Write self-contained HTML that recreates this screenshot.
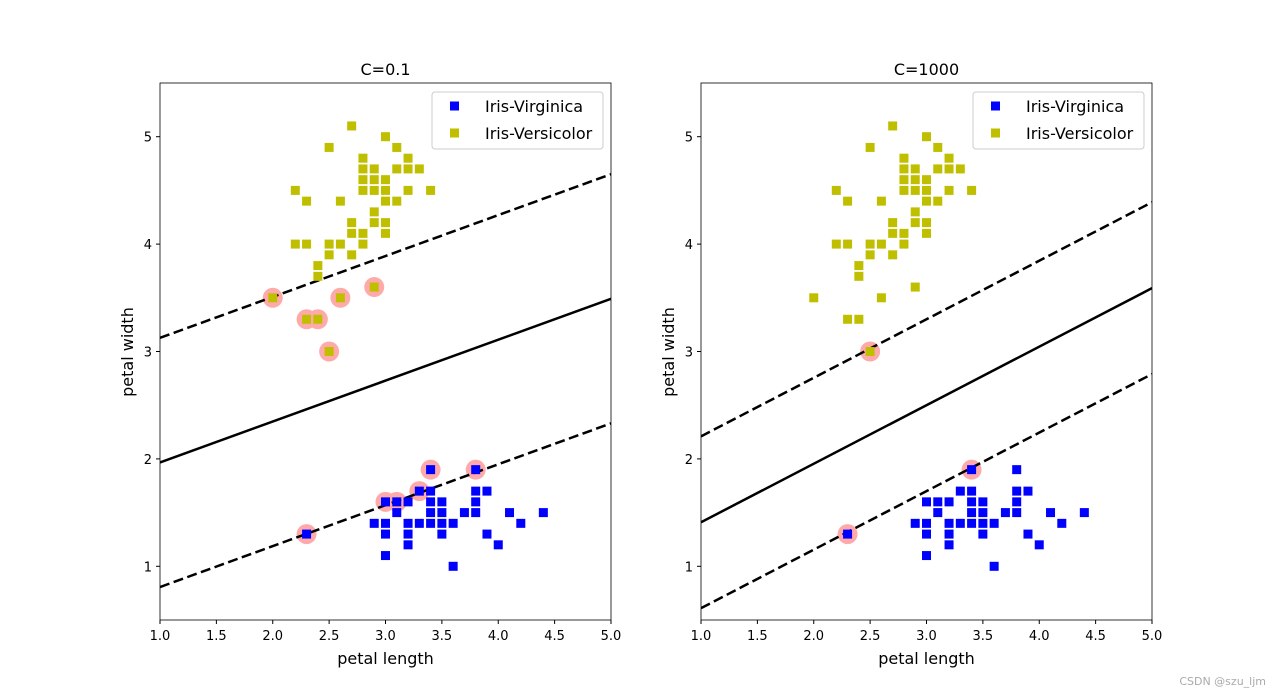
<!DOCTYPE html>
<html><head><meta charset="utf-8"><style>
body{margin:0;background:#fff;}
svg{display:block;font-family:"DejaVu Sans","Liberation Sans",sans-serif;}
</style></head><body>
<svg id="chart" width="1280" height="697"></svg>
<script>
const versicolorX=[2.7,3.0,2.5,3.1,2.8,3.2,2.8,2.9,3.1,3.2,3.3,2.8,2.9,3.0,2.2,2.8,2.9,3.0,3.2,3.4,2.3,2.6,3.0,3.1,2.9,2.7,2.9,3.0,2.7,2.8,3.0,2.2,2.3,2.5,2.6,2.8,2.5,2.7,2.4,2.4,2.9,2.0,2.6,2.3,2.4,2.5];
const versicolorY=[5.1,5.0,4.9,4.9,4.8,4.8,4.7,4.7,4.7,4.7,4.7,4.6,4.6,4.6,4.5,4.5,4.5,4.5,4.5,4.5,4.4,4.4,4.4,4.4,4.3,4.2,4.2,4.2,4.1,4.1,4.1,4.0,4.0,4.0,4.0,4.0,3.9,3.9,3.8,3.7,3.6,3.5,3.5,3.3,3.3,3.0];
const virginicaX=[3.4,3.8,3.3,3.4,3.8,3.9,3.0,3.1,3.2,3.4,3.5,3.8,3.1,3.4,3.5,3.7,3.8,4.1,4.4,2.9,3.0,3.2,3.3,3.4,3.5,3.6,4.2,2.3,3.0,3.2,3.5,3.9,3.2,4.0,3.0,3.6];
const virginicaY=[1.9,1.9,1.7,1.7,1.7,1.7,1.6,1.6,1.6,1.6,1.6,1.6,1.5,1.5,1.5,1.5,1.5,1.5,1.5,1.4,1.4,1.4,1.4,1.4,1.4,1.4,1.4,1.3,1.3,1.3,1.3,1.3,1.2,1.2,1.1,1.0];
const svLeftX=[2.0,2.3,2.4,2.5,2.6,2.9,2.3,3.0,3.1,3.3,3.4,3.8];
const svLeftY=[3.5,3.3,3.3,3.0,3.5,3.6,1.3,1.6,1.6,1.7,1.9,1.9];
const svRightX=[2.5,3.4,2.3];
const svRightY=[3.0,1.9,1.3];
// decision boundary: y = intercept + slope*x ; margin offset
const boundaryLeft=[1.586,0.381,1.16];
const boundaryRight=[0.865,0.545,0.80];
const xTicks=[1.0,1.5,2.0,2.5,3.0,3.5,4.0,4.5,5.0];
const yTicks=[1,2,3,4,5];
const titles=["C=0.1","C=1000"];

const NS="http://www.w3.org/2000/svg";
const svg=document.getElementById('chart');
function mk(tag,attrs,parent,text){const e=document.createElementNS(NS,tag);for(const k in attrs)e.setAttribute(k,attrs[k]);if(text!==undefined)e.textContent=text;(parent||svg).appendChild(e);return e;}

function panel(left,title,sx,sy,b,name){
  const W=451,T=83,H=537;
  const g=mk('g',{});
  
  
  const X=v=>left+(v-1)/4*W, Y=v=>T+(5.5-v)/5*H;
  const clip='clip'+name;
  const cp=mk('clipPath',{id:clip},g);mk('rect',{x:left,y:T,width:W,height:H},cp);
  const pg=mk('g',{'clip-path':'url(#'+clip+')'},g);
  for(let i=0;i<sx.length;i++){const c=mk('circle',{cx:X(sx[i]),cy:Y(sy[i]),r:10,fill:'#FFAAAA'},pg);
    
    }
  const [b0,b1,m]=b;
  [[0,'none'],[m,'10,4.5'],[-m,'10,4.5']].forEach(([o,d])=>{
    const l=mk('line',{x1:X(1),y1:Y(b0+b1*1+o),x2:X(5),y2:Y(b0+b1*5+o),stroke:'#000','stroke-width':2.5,'stroke-dasharray':d},pg);
    
    
  });
  for(let i=0;i<virginicaX.length;i++){const r=mk('rect',{x:X(virginicaX[i])-4.5,y:Y(virginicaY[i])-4.5,width:9,height:9,fill:'#0000ff'},pg);
    
    }
  for(let i=0;i<versicolorX.length;i++){const r=mk('rect',{x:X(versicolorX[i])-4.5,y:Y(versicolorY[i])-4.5,width:9,height:9,fill:'#bfbf00'},pg);
    
    }
  mk('rect',{x:left,y:T,width:W,height:H,fill:'none',stroke:'#000','stroke-width':0.8},g);
  xTicks.forEach(t=>{mk('line',{x1:X(t),x2:X(t),y1:T+H,y2:T+H+4,stroke:'#000'},g);
    mk('text',{x:X(t),y:T+H+20,'font-size':13,'text-anchor':'middle'},g,t.toFixed(1));});
  yTicks.forEach(t=>{mk('line',{x1:left-4,x2:left,y1:Y(t),y2:Y(t),stroke:'#000'},g);
    mk('text',{x:left-8,y:Y(t)+5,'font-size':13,'text-anchor':'end'},g,String(t));});
  const tt=mk('text',{x:left+W/2,y:75,'font-size':16,'text-anchor':'middle'},g,title);
  
  const xl=mk('text',{x:left+W/2,y:664,'font-size':16,'text-anchor':'middle'},g,'petal length');
  
  const yl=mk('text',{x:0,y:0,'font-size':16,'text-anchor':'middle',transform:`translate(${left-27},352) rotate(-90)`},g,'petal width');
  
  const lg=mk('g',{},g);
  
  const lx=left+W-179;
  mk('rect',{x:lx,y:92,width:171,height:57,rx:3,fill:'#fff',stroke:'#ccc'},lg);
  mk('rect',{x:lx+18,y:101.5,width:9,height:9,fill:'#0000ff'},lg);
  mk('text',{x:lx+53,y:112,'font-size':16},lg,'Iris-Virginica');
  mk('rect',{x:lx+18,y:128.5,width:9,height:9,fill:'#bfbf00'},lg);
  mk('text',{x:lx+53,y:139,'font-size':16},lg,'Iris-Versicolor');
}
panel(160,titles[0],svLeftX,svLeftY,boundaryLeft,'panel-c-0-1');
panel(701,titles[1],svRightX,svRightY,boundaryRight,'panel-c-1000');
const wm=mk('text',{x:1266,y:685,'font-size':11,fill:'#aaa','text-anchor':'end'},svg,'CSDN @szu_ljm');


</script>
</body></html>
